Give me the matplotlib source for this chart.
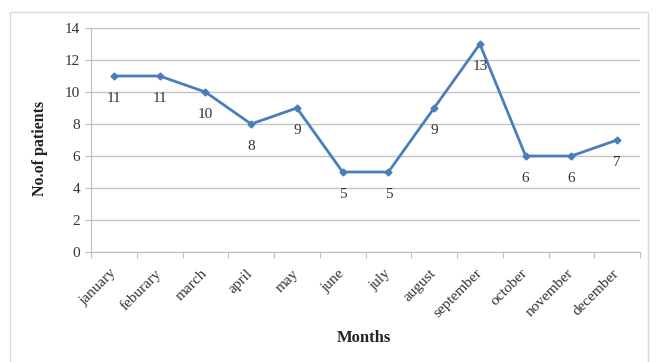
import matplotlib.pyplot as plt
from matplotlib.patches import Rectangle

months = ["january", "feburary", "march", "april", "may", "june",
          "july", "august", "september", "october", "november", "december"]
patients = [11, 11, 10, 8, 9, 5, 5, 9, 13, 6, 6, 7]
yticks = [0, 2, 4, 6, 8, 10, 12, 14]

plt.rcParams["font.family"] = ["Liberation Serif", "DejaVu Serif"]

fig = plt.figure(figsize=(6.6, 3.62), dpi=100)
ax = fig.add_axes([91 / 660, 1 - 252 / 362, 549 / 660, 224 / 362])

# outer chart frame (bottom edge runs off the picture)
fig.patches.append(Rectangle((10 / 660, -0.02), 638 / 660, 1 - 12 / 362 + 0.02,
                             transform=fig.transFigure, fill=False,
                             edgecolor="#d9d9d9", linewidth=1))

x = list(range(len(months)))
ax.plot(x, patients, color="#4a7ebb", linewidth=2, marker="D", markersize=3.5)

for xi, v in zip(x, patients):
    ax.annotate(str(v), (xi, v), xytext=(0, -16.5), textcoords="offset points",
                ha="center", va="center", fontsize=11, color="#333333")

ax.set_xlim(-0.5, 11.5)
ax.set_ylim(0, 14)
ax.set_yticks(yticks)
ax.set_xticks([i + 0.5 for i in range(-1, 12)], minor=False)
ax.set_xticklabels([])
ax.set_xticks(x, minor=True)
ax.set_xticklabels(months, minor=True, rotation=45, ha="right", va="center",
                   rotation_mode="anchor", fontsize=11, color="#333333")
ax.tick_params(axis="x", which="major", length=4, color="#bfbfbf", direction="out")
ax.tick_params(axis="x", which="minor", length=0, pad=14)
ax.tick_params(axis="y", length=4, color="#bfbfbf", labelsize=11,
               labelcolor="#333333", pad=4)

ax.yaxis.grid(True, color="#c4c4c4", linewidth=1)
ax.set_axisbelow(True)
for s in ["top", "right"]:
    ax.spines[s].set_visible(False)
ax.spines["left"].set_color("#bfbfbf")
ax.spines["bottom"].set_color("#bfbfbf")

fig.text(40 / 660, 1 - 148 / 362, "No.of patients", rotation=90, fontsize=11.5,
         fontweight="bold", ha="center", va="center", color="#222222")
fig.text(364 / 660, 1 - 338 / 362, "Months", fontsize=12, fontweight="bold",
         ha="center", va="center", color="#222222")

plt.savefig("out.png", dpi=100)
